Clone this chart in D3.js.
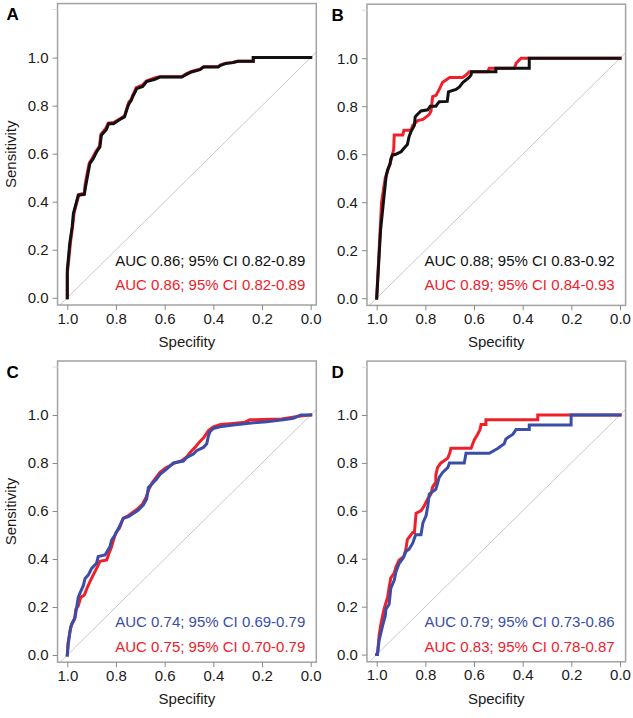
<!DOCTYPE html>
<html><head><meta charset="utf-8">
<script src="https://cdn.jsdelivr.net/npm/d3@7"></script>
<style>
body{margin:0;background:#fff}
svg{display:block;font-family:"Liberation Sans",Arial,sans-serif}
</style>
</head><body>
<svg id="chart" width="633" height="718"></svg>
<script>
// ---------- data (specificity, sensitivity) ----------
const panelLetters = ["A", "B", "C", "D"];
const xTicks = [1.0, 0.8, 0.6, 0.4, 0.2, 0.0];
const yTicks = [0.0, 0.2, 0.4, 0.6, 0.8, 1.0];

const rocA_red = [[1,0],[1,0.10],[0.993,0.17],[0.987,0.23],[0.978,0.30],[0.972,0.355],[0.96,0.40],[0.952,0.43],[0.93,0.435],[0.927,0.47],[0.918,0.52],[0.91,0.56],[0.895,0.585],[0.882,0.61],[0.868,0.63],[0.862,0.68],[0.842,0.705],[0.832,0.727],[0.81,0.73],[0.78,0.747],[0.765,0.757],[0.752,0.80],[0.747,0.815],[0.738,0.825],[0.732,0.842],[0.722,0.862],[0.717,0.875],[0.692,0.885],[0.676,0.902],[0.642,0.915],[0.62,0.92],[0.53,0.92],[0.512,0.932],[0.49,0.942],[0.455,0.952],[0.44,0.962],[0.38,0.963],[0.37,0.97],[0.35,0.977],[0.32,0.98],[0.30,0.985],[0.236,0.985],[0.236,1],[0,1]];
const rocA_black = [[1,0],[1,0.115],[0.995,0.17],[0.99,0.226],[0.98,0.295],[0.975,0.351],[0.962,0.40],[0.955,0.427],[0.93,0.43],[0.925,0.462],[0.915,0.517],[0.907,0.56],[0.893,0.58],[0.88,0.607],[0.866,0.628],[0.86,0.677],[0.84,0.70],[0.83,0.725],[0.81,0.725],[0.78,0.745],[0.765,0.753],[0.75,0.80],[0.745,0.81],[0.737,0.822],[0.73,0.84],[0.72,0.86],[0.715,0.871],[0.69,0.88],[0.674,0.90],[0.64,0.91],[0.62,0.919],[0.53,0.919],[0.51,0.93],[0.49,0.94],[0.455,0.95],[0.44,0.961],[0.38,0.961],[0.37,0.968],[0.35,0.975],[0.32,0.979],[0.30,0.985],[0.236,0.985],[0.236,1],[0,1]];

const rocB_red = [[1,0],[0.99,0.2],[0.98,0.4],[0.965,0.5],[0.955,0.53],[0.945,0.56],[0.935,0.6],[0.93,0.62],[0.928,0.68],[0.893,0.68],[0.888,0.70],[0.859,0.70],[0.852,0.72],[0.831,0.74],[0.81,0.745],[0.784,0.765],[0.777,0.78],[0.77,0.84],[0.756,0.845],[0.743,0.87],[0.729,0.90],[0.70,0.92],[0.647,0.92],[0.633,0.93],[0.619,0.944],[0.544,0.944],[0.537,0.958],[0.434,0.958],[0.427,0.979],[0.407,1],[0,1]];
const rocB_black = [[1,0],[0.984,0.285],[0.97,0.423],[0.962,0.50],[0.96,0.514],[0.955,0.535],[0.945,0.56],[0.942,0.58],[0.935,0.597],[0.921,0.60],[0.90,0.61],[0.888,0.625],[0.874,0.64],[0.867,0.673],[0.859,0.694],[0.845,0.72],[0.842,0.755],[0.838,0.76],[0.818,0.78],[0.79,0.785],[0.78,0.80],[0.757,0.80],[0.743,0.819],[0.71,0.82],[0.705,0.86],[0.674,0.87],[0.66,0.88],[0.645,0.90],[0.62,0.92],[0.612,0.93],[0.61,0.944],[0.51,0.944],[0.51,0.958],[0.373,0.958],[0.373,1],[0,1]];

const rocC_red = [[1,0],[0.997,0.05],[0.99,0.09],[0.985,0.12],[0.97,0.15],[0.965,0.19],[0.955,0.205],[0.945,0.24],[0.93,0.25],[0.92,0.276],[0.905,0.31],[0.89,0.34],[0.875,0.37],[0.866,0.39],[0.838,0.396],[0.83,0.42],[0.818,0.451],[0.81,0.48],[0.80,0.51],[0.785,0.53],[0.77,0.57],[0.75,0.58],[0.73,0.595],[0.71,0.61],[0.69,0.63],[0.675,0.66],[0.665,0.69],[0.65,0.72],[0.635,0.74],[0.62,0.76],[0.595,0.78],[0.575,0.79],[0.56,0.80],[0.53,0.81],[0.51,0.825],[0.49,0.85],[0.475,0.865],[0.455,0.89],[0.44,0.905],[0.42,0.935],[0.40,0.951],[0.37,0.96],[0.32,0.965],[0.27,0.97],[0.25,0.98],[0.12,0.983],[0.08,0.99],[0.05,0.995],[0,1]];
const rocC_blue = [[1,0],[0.996,0.046],[0.989,0.101],[0.982,0.129],[0.968,0.157],[0.955,0.24],[0.947,0.26],[0.934,0.29],[0.927,0.319],[0.914,0.333],[0.9,0.361],[0.88,0.382],[0.873,0.41],[0.845,0.417],[0.825,0.451],[0.818,0.479],[0.804,0.50],[0.79,0.527],[0.777,0.555],[0.77,0.569],[0.749,0.576],[0.729,0.59],[0.708,0.604],[0.688,0.625],[0.674,0.65],[0.667,0.698],[0.653,0.712],[0.633,0.733],[0.619,0.753],[0.592,0.774],[0.578,0.788],[0.564,0.80],[0.523,0.808],[0.509,0.823],[0.482,0.837],[0.469,0.851],[0.441,0.865],[0.427,0.88],[0.421,0.91],[0.414,0.93],[0.40,0.944],[0.373,0.951],[0.318,0.958],[0.263,0.965],[0.181,0.972],[0.113,0.98],[0.071,0.986],[0.04,1],[0,1]];

const rocD_red = [[1,0],[0.997,0],[0.99,0.08],[0.984,0.12],[0.97,0.19],[0.955,0.24],[0.949,0.28],[0.942,0.32],[0.928,0.34],[0.921,0.366],[0.908,0.394],[0.888,0.41],[0.88,0.44],[0.874,0.48],[0.852,0.51],[0.845,0.51],[0.838,0.59],[0.818,0.60],[0.805,0.62],[0.79,0.65],[0.777,0.67],[0.77,0.70],[0.757,0.72],[0.757,0.75],[0.75,0.78],[0.736,0.80],[0.708,0.82],[0.70,0.84],[0.695,0.861],[0.612,0.861],[0.605,0.88],[0.599,0.896],[0.585,0.92],[0.575,0.94],[0.571,0.96],[0.551,0.96],[0.551,0.98],[0.338,0.98],[0.338,1],[0,1]];
const rocD_blue = [[1,0],[0.997,0],[0.99,0.06],[0.984,0.085],[0.976,0.12],[0.965,0.16],[0.962,0.19],[0.949,0.21],[0.942,0.277],[0.928,0.31],[0.921,0.345],[0.908,0.38],[0.893,0.40],[0.88,0.43],[0.867,0.44],[0.852,0.465],[0.84,0.50],[0.818,0.50],[0.81,0.55],[0.797,0.58],[0.79,0.62],[0.784,0.67],[0.757,0.69],[0.743,0.74],[0.729,0.76],[0.708,0.78],[0.701,0.80],[0.64,0.80],[0.633,0.84],[0.537,0.84],[0.503,0.86],[0.476,0.88],[0.469,0.90],[0.44,0.92],[0.427,0.94],[0.373,0.94],[0.373,0.958],[0.201,0.958],[0.201,1],[0,1]];

const aucA = ["AUC 0.86; 95% CI 0.82-0.89", "AUC 0.86; 95% CI 0.82-0.89"];
const aucB = ["AUC 0.88; 95% CI 0.83-0.92", "AUC 0.89; 95% CI 0.84-0.93"];
const aucC = ["AUC 0.74; 95% CI 0.69-0.79", "AUC 0.75; 95% CI 0.70-0.79"];
const aucD = ["AUC 0.79; 95% CI 0.73-0.86", "AUC 0.83; 95% CI 0.78-0.87"];

// ---------- styles / layout ----------
const COL = {black: "#111111", red: "#f0202a", blue: "#3a4ea8"};
const panels = [
  {letter: panelLetters[0], x0: 67.3, x1: 310.7, y0: 297.8, y1: 57.6, ylab: true,
   series: [{d: rocA_red, c: COL.red}, {d: rocA_black, c: COL.black}],
   auc: [{t: aucA[0], c: COL.black}, {t: aucA[1], c: COL.red}], aucY: [266, 289.5]},
  {letter: panelLetters[1], x0: 376.7, x1: 620, y0: 298.2, y1: 58.2, ylab: false,
   series: [{d: rocB_red, c: COL.red}, {d: rocB_black, c: COL.black}],
   auc: [{t: aucB[0], c: COL.black}, {t: aucB[1], c: COL.red}], aucY: [266, 289.5]},
  {letter: panelLetters[2], x0: 67.3, x1: 310.7, y0: 655, y1: 415, ylab: true,
   series: [{d: rocC_red, c: COL.red}, {d: rocC_blue, c: COL.blue}],
   auc: [{t: aucC[0], c: COL.blue}, {t: aucC[1], c: COL.red}], aucY: [627, 652]},
  {letter: panelLetters[3], x0: 376.7, x1: 620, y0: 654.6, y1: 415, ylab: false,
   series: [{d: rocD_red, c: COL.red}, {d: rocD_blue, c: COL.blue}],
   auc: [{t: aucD[0], c: COL.blue}, {t: aucD[1], c: COL.red}], aucY: [627, 652]}
];

const svg = d3.select("#chart");
const fmt = d3.format(".1f");

panels.forEach((p, i) => {
  const xs = d3.scaleLinear().domain([1, 0]).range([p.x0, p.x1]);
  const ys = d3.scaleLinear().domain([0, 1]).range([p.y0, p.y1]);
  const bx0 = xs(1.04), bx1 = xs(-0.023), by0 = ys(1.225), by1 = ys(-0.03);
  const g = svg.append("g");

  // clip
  const cid = "clip" + i;
  svg.append("clipPath").attr("id", cid).append("rect")
    .attr("x", bx0).attr("y", by0).attr("width", bx1 - bx0).attr("height", by1 - by0);

  // diagonal reference line
  g.append("line").attr("clip-path", `url(#${cid})`)
    .attr("x1", xs(1.1)).attr("y1", ys(-0.1)).attr("x2", xs(-0.1)).attr("y2", ys(1.1))
    .attr("stroke", "#c9c9c9").attr("stroke-width", 1);

  // curves
  const line = d3.line().x(d => xs(d[0])).y(d => ys(d[1]));
  p.series.forEach(s => {
    g.append("path").datum(s.d).attr("d", line)
      .attr("fill", "none").attr("stroke", s.c).attr("stroke-width", 3)
      .attr("stroke-linejoin", "miter").attr("stroke-linecap", "square");
  });

  // box
  g.append("rect").attr("x", bx0).attr("y", by0).attr("width", bx1 - bx0).attr("height", by1 - by0)
    .attr("fill", "none").attr("stroke", "#a3a3a3").attr("stroke-width", 1.5);

  // y axis
  const ya = g.append("g").attr("transform", `translate(${bx0},0)`)
    .call(d3.axisLeft(ys).tickValues(yTicks).tickSize(5).tickPadding(4).tickFormat(fmt));
  ya.select(".domain").remove();
  ya.selectAll(".tick line").attr("stroke", "#8a8a8a");
  ya.selectAll(".tick text").attr("fill", "#1a1a1a").style("font-size", "15px")
    .style("font-family", "'Liberation Sans',Arial,sans-serif");
  // faint unlabeled tick at 1.2
  g.append("line").attr("x1", bx0 - 5).attr("x2", bx0).attr("y1", ys(1.2)).attr("y2", ys(1.2))
    .attr("stroke", "#dddddd");

  // x axis
  const xa = g.append("g").attr("transform", `translate(0,${by1})`)
    .call(d3.axisBottom(xs).tickValues(xTicks).tickSize(5).tickPadding(3).tickFormat(fmt));
  xa.select(".domain").remove();
  xa.selectAll(".tick line").attr("stroke", "#8a8a8a");
  xa.selectAll(".tick text").attr("fill", "#1a1a1a").style("font-size", "15px")
    .style("font-family", "'Liberation Sans',Arial,sans-serif");

  // x title
  g.append("text").attr("x", (bx0 + bx1) / 2).attr("y", by1 + 42)
    .attr("text-anchor", "middle").attr("fill", "#1a1a1a").style("font-size", "15px")
    .text("Specifity");

  // y title
  if (p.ylab) {
    g.append("text").attr("transform", `translate(16,${(by0 + by1) / 2}) rotate(-90)`)
      .attr("text-anchor", "middle").attr("fill", "#1a1a1a").style("font-size", "15px")
      .text("Sensitivity");
  }

  // panel letter
  g.append("text").attr("x", i % 2 === 0 ? 6.5 : 331.5).attr("y", by0 + 16.5)
    .attr("fill", "#000").style("font-size", "17px").style("font-weight", "bold")
    .text(p.letter);

  // AUC labels
  p.auc.forEach((a, k) => {
    g.append("text").attr("x", bx1 - 11).attr("y", p.aucY[k])
      .attr("text-anchor", "end").attr("fill", a.c).style("font-size", "15px")
      .text(a.t);
  });
});
</script>
</body></html>
